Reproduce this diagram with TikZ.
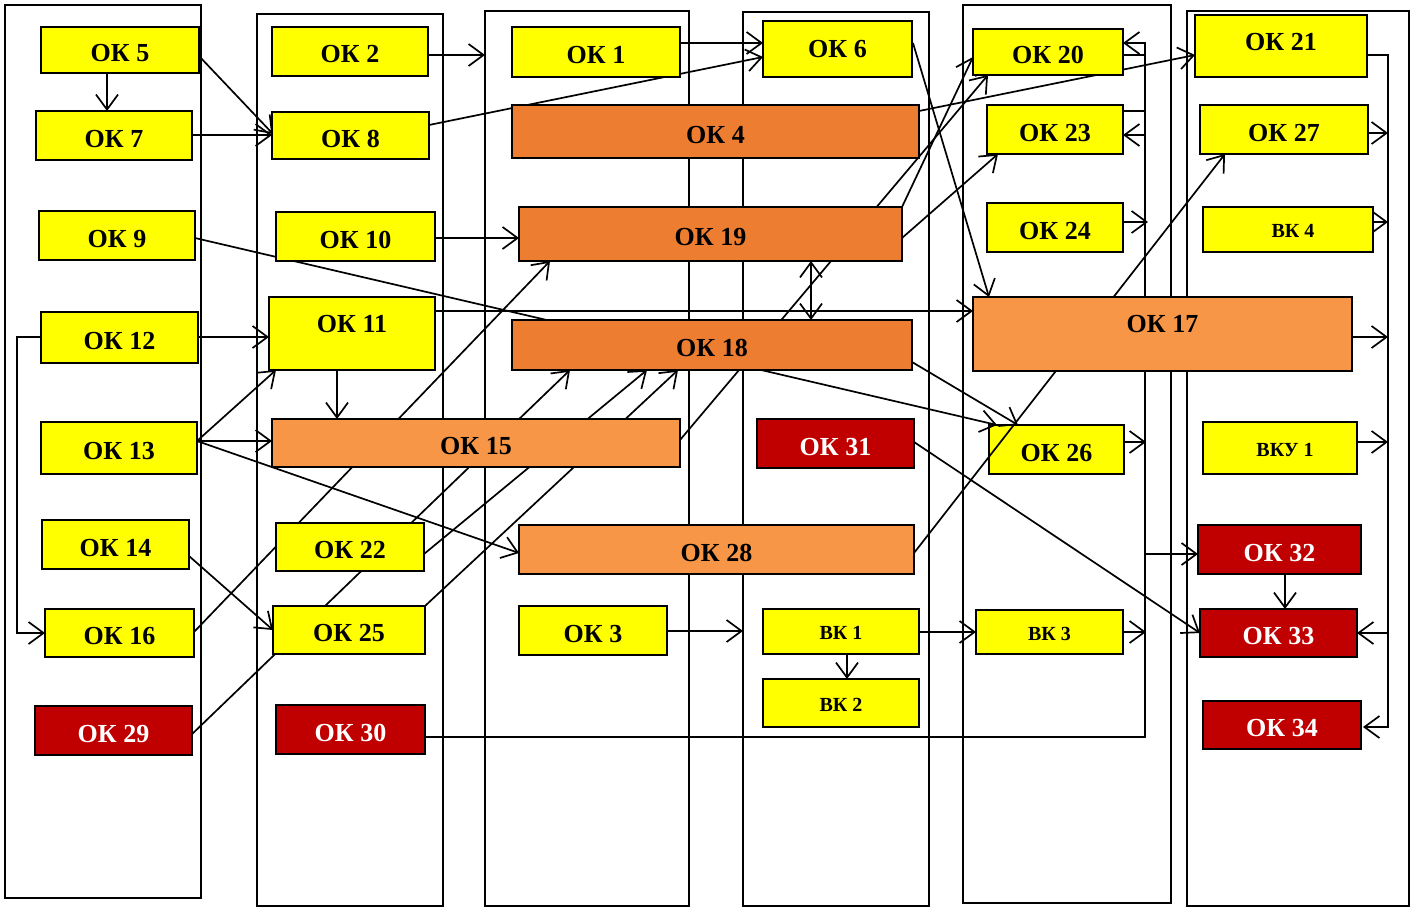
\documentclass[tikz,border=0pt]{standalone}
\usepackage{fontspec}
\setmainfont{Liberation Serif}
\usetikzlibrary{arrows.meta,calc}
\pgfdeclarelayer{bg}\pgfdeclarelayer{fg}\pgfsetlayers{bg,main,fg}
\definecolor{ylw}{HTML}{FFFF00}
\definecolor{dorg}{HTML}{ED7D31}
\definecolor{lorg}{HTML}{F79646}
\definecolor{dred}{HTML}{C00000}
\newcommand\mkbox[7]{\node[#1, minimum width={(#5-#3)*1pt}, minimum height={(#6-#4)*1pt}] (#2) at ({(#3+#5)/2},{(#4+#6)/2}) {#7};}
\tikzset{
 boxbase/.style={draw=black, line width=1.8pt, inner sep=0pt, outer sep=0pt, text height=23pt, text depth=0pt, font=\fontsize{26}{30}\selectfont\bfseries},
 yb/.style={boxbase, fill=ylw},
 vb/.style={boxbase, fill=ylw, text height=16pt, font=\fontsize{20}{24}\selectfont\bfseries},
 ob/.style={boxbase, fill=dorg},
 lb/.style={boxbase, fill=lorg},
 rb/.style={boxbase, fill=dred, text=white},
 lane/.style={draw=black, line width=2.8pt, inner sep=0pt, outer sep=0pt},
 tipv/.tip={Straight Barb[length=15pt,width=22pt]},
 arr/.style={line width=1.7pt, -tipv},
 dbl/.style={line width=1.7pt, tipv-tipv},
 ln/.style={line width=1.7pt},
}
\begin{document}
\begin{tikzpicture}[x=1pt,y=-1pt]
\useasboundingbox (0,0) rectangle (1418,907);
\begin{pgfonlayer}{bg}
\mkbox{lane}{lane1}{5}{5}{201}{898}{}
\mkbox{lane}{lane2}{257}{14}{443}{906}{}
\mkbox{lane}{lane3}{485}{11}{689}{906}{}
\mkbox{lane}{lane4}{743}{12}{929}{906}{}
\mkbox{lane}{lane5}{963}{5}{1171}{903}{}
\mkbox{lane}{lane6}{1187}{11}{1409}{906}{}
\end{pgfonlayer}
\begin{pgfonlayer}{fg}
\mkbox{yb}{ok5}{41}{27}{199}{73}{ОК 5}
\mkbox{yb}{ok7}{36}{111}{192}{160}{ОК 7}
\mkbox{yb}{ok9}{39}{211}{195}{260}{ОК 9}
\mkbox{yb}{ok12}{41}{312}{198}{363}{ОК 12}
\mkbox{yb}{ok13}{41}{422}{197}{474}{ОК 13}
\mkbox{yb}{ok14}{42}{520}{189}{569}{ОК 14}
\mkbox{yb}{ok16}{45}{609}{194}{657}{ОК 16}
\mkbox{rb}{ok29}{35}{706}{192}{755}{ОК 29}
\mkbox{yb}{ok2}{272}{27}{428}{76}{ОК 2}
\mkbox{yb}{ok8}{272}{112}{429}{159}{ОК 8}
\mkbox{yb}{ok10}{276}{212}{435}{261}{ОК 10}
\mkbox{yb,text depth=26pt}{ok11}{269}{297}{435}{370}{ОК 11}
\mkbox{lb}{ok15}{272}{419}{680}{467}{ОК 15}
\mkbox{yb}{ok22}{276}{523}{424}{571}{ОК 22}
\mkbox{yb}{ok25}{273}{606}{425}{654}{ОК 25}
\mkbox{rb}{ok30}{276}{705}{425}{754}{ОК 30}
\mkbox{yb}{ok1}{512}{27}{680}{77}{ОК 1}
\mkbox{ob}{ok4}{512}{105}{919}{158}{ОК 4}
\mkbox{ob}{ok19}{519}{207}{902}{261}{ОК 19}
\mkbox{ob}{ok18}{512}{320}{912}{370}{ОК 18}
\mkbox{lb}{ok28}{519}{525}{914}{574}{ОК 28}
\mkbox{yb}{ok3}{519}{606}{667}{655}{ОК 3}
\mkbox{yb,text depth=7pt}{ok6}{763}{21}{912}{77}{ОК 6}
\mkbox{rb}{ok31}{757}{419}{914}{468}{ОК 31}
\mkbox{vb}{bk1}{763}{609}{919}{654}{ВК 1}
\mkbox{vb}{bk2}{763}{679}{919}{727}{ВК 2}
\mkbox{yb}{ok20}{973}{29}{1123}{75}{ОК 20}
\mkbox{yb}{ok23}{987}{105}{1123}{154}{ОК 23}
\mkbox{yb}{ok24}{987}{203}{1123}{252}{ОК 24}
\mkbox{lb,text depth=27pt}{ok17}{973}{297}{1352}{371}{ОК 17}
\mkbox{vb}{bk3}{976}{610}{1123}{654}{ВК 3}
\mkbox{yb,text depth=13pt}{ok21}{1195}{15}{1367}{77}{ОК 21}
\mkbox{yb}{ok27}{1200}{105}{1368}{154}{ОК 27}
\mkbox{vb}{bk4}{1203}{207}{1373}{252}{\hspace*{10pt}ВК 4}
\mkbox{vb}{bku1}{1203}{422}{1357}{474}{\hspace*{10pt}ВКУ 1}
\mkbox{rb}{ok32}{1198}{525}{1361}{574}{ОК 32}
\mkbox{rb}{ok33}{1200}{609}{1357}{657}{ОК 33}
\mkbox{rb}{ok34}{1203}{701}{1361}{749}{ОК 34}
\end{pgfonlayer}
\mkbox{yb}{ok26}{989}{425}{1124}{474}{ОК 26}
% connectors
\draw[arr] ($(ok5.north west)+(66,46)$) -- ($(ok7.north west)+(71,0)$);
\draw[arr] ($(ok5.north west)+(158,29)$) -- ($(ok8.north west)+(1,22)$);
\draw[arr] ($(ok7.north west)+(156,24)$) -- ($(ok8.north west)+(0,23)$);
\draw[arr] ($(ok2.north west)+(156,28)$) -- ($(lane3.north west)+(0,44)$);
\draw[arr] ($(ok1.north west)+(168,16)$) -- ($(ok6.north west)+(0,22)$);
\draw[arr] ($(ok8.north west)+(157,13)$) -- ($(ok6.north west)+(0,36)$);
\draw[arr] ($(ok6.north west)+(150,22)$) -- ($(ok17.north west)+(16,0)$);
\draw[arr] ($(ok9.north west)+(156,27)$) -- ($(ok26.north west)+(8,0)$);
\draw[arr] ($(ok10.north west)+(159,26)$) -- ($(ok19.north west)+(0,31)$);
\draw[arr] ($(ok12.north west)+(157,25)$) -- ($(ok11.north west)+(0,40)$);
\draw[arr] ($(ok12.north west)+(0,25)$) -- ++(-24,0) |- ($(ok16.north west)+(0,24)$);
\draw[arr] ($(ok13.north west)+(156,19)$) -- ($(ok11.north west)+(7,73)$);
\draw[arr] ($(ok13.north west)+(156,19)$) -- ($(ok15.north west)+(0,22)$);
\draw[arr] ($(ok13.north west)+(156,19)$) -- ($(ok28.north west)+(0,28)$);
\draw[arr] ($(ok11.north west)+(68,73)$) -- ($(ok15.north west)+(65,0)$);
\draw[arr] ($(ok11.north west)+(166,14)$) -- ($(ok17.north west)+(0,14)$);
\draw[arr] ($(ok14.north west)+(147,36)$) -- ($(ok25.north west)+(0,24)$);
\draw[arr] ($(ok16.north west)+(149,23)$) -- ($(ok19.north west)+(31,54)$);
\draw[arr] ($(ok29.north west)+(154,31)$) -- ($(ok18.north west)+(58,50)$);
\draw[arr] ($(ok22.north west)+(148,31)$) -- ($(ok18.north west)+(135,50)$);
\draw[arr] ($(ok25.north west)+(152,0)$) -- ($(ok18.north west)+(166,50)$);
\draw[arr] ($(ok15.north west)+(408,21)$) -- ($(ok20.north west)+(15,46)$);
\draw[arr] ($(ok19.north west)+(383,0)$) -- ($(ok20.north west)+(0,28)$);
\draw[arr] ($(ok19.north west)+(383,31)$) -- ($(ok23.north west)+(11,49)$);
\draw[dbl] ($(ok19.north west)+(292,54)$) -- ($(ok18.north west)+(299,0)$);
\draw[arr] ($(ok4.north west)+(407,6)$) -- ($(ok21.north west)+(0,40)$);
\draw[arr] ($(ok18.north west)+(400,42)$) -- ($(ok26.north west)+(29,0)$);
\draw[arr] ($(ok31.north west)+(157,23)$) -- ($(ok33.north west)+(0,24)$);
\draw[arr] ($(ok28.north west)+(395,28)$) -- ($(ok27.north west)+(25,49)$);
\draw[arr] ($(ok3.north west)+(148,25)$) -- ($(lane4.north west)+(0,619)$);
\draw[arr] ($(bk1.north west)+(84,45)$) -- ($(bk2.north west)+(84,0)$);
\draw[arr] ($(bk1.north west)+(156,23)$) -- ($(bk3.north west)+(0,22)$);
% bus in lane 5
\coordinate (b5) at ($(ok20.north east)+(22,14)$);
\draw[arr] ($(ok30.north west)+(149,32)$) -| (b5) -- ($(ok20.north west)+(150,14)$);
\draw[ln] ($(ok20.north west)+(150,26)$) -- ++(22,0);
\draw[ln] ($(ok23.north west)+(136,6)$) -- ++(22,0);
\draw[arr] ($(ok23.north west)+(158,30)$) -- ($(ok23.north west)+(136,30)$);
\draw[arr] ($(ok24.north west)+(136,19)$) -- ++(25,0);
\draw[arr] ($(ok26.north west)+(135,17)$) -- ++(22,0);
\draw[arr] ($(bk3.north west)+(147,22)$) -- ++(23,0);
\draw[arr] ($(ok32.north west)+(-53,29)$) -- ($(ok32.north west)+(0,29)$);
% bus in lane 6
\draw[arr] ($(ok21.north west)+(172,40)$) -- ++(21,0) |- ($(ok34.north west)+(160,26)$);
\draw[arr] ($(ok33.north west)+(188,24)$) -- ($(ok33.north west)+(157,24)$);
\draw[arr] ($(ok27.north west)+(168,28)$) -- ++(20,0);
\draw[arr] ($(bk4.north west)+(170,15)$) -- ++(15,0);
\draw[arr] ($(ok17.north west)+(379,40)$) -- ++(36,0);
\draw[arr] ($(bku1.north west)+(154,20)$) -- ++(31,0);
\draw[arr] ($(ok32.north west)+(87,49)$) -- ($(ok33.north west)+(85,0)$);
\end{tikzpicture}
\end{document}
